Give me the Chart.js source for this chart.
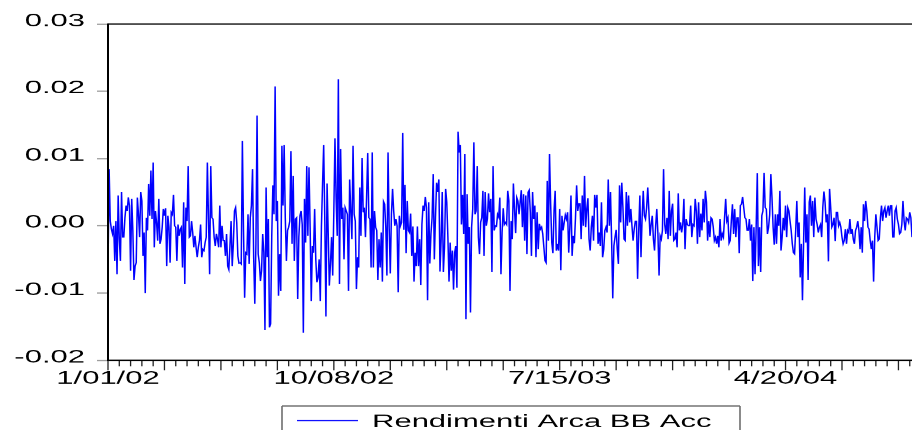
<!DOCTYPE html>
<html><head><meta charset="utf-8">
<script src="https://cdn.jsdelivr.net/npm/chart.js@4.4.1/dist/chart.umd.min.js"></script>
<style>html,body{margin:0;padding:0;background:#fff;overflow:hidden}
#c{display:block}</style>
</head><body>
<canvas id="c" width="912" height="752" style="width:912px;height:430px"></canvas>
<script>
const seriesLabel = 'Rendimenti Arca BB Acc';
const tickLabels = ['1/01/02', '10/08/02', '7/15/03', '4/20/04'];
const obsPerLabel = 200;
const yTicks = [-0.02, -0.01, 0.00, 0.01, 0.02, 0.03];

const returnsA = [
-0.0067,0.0084,0.0007,-0.0005,-0.0012,0.0000,-0.0052,0.0007,-0.0072,0.0045,-0.0020,-0.0052,
0.0050,-0.0017,-0.0017,0.0012,0.0030,0.0022,0.0042,0.0030,-0.0067,0.0040,-0.0007,
-0.0081,-0.0060,-0.0055,0.0042,0.0017,-0.0017,0.0050,0.0037,-0.0045,-0.0010,
-0.0100,0.0012,-0.0007,0.0062,0.0015,0.0082,0.0010,0.0094,-0.0032,0.0022,0.0005,
-0.0022,0.0040,-0.0027,-0.0020,-0.0002,0.0025,0.0015,0.0026,-0.0060,0.0015,
-0.0002,-0.0055,0.0020,0.0017,0.0046,0.0000,-0.0002,-0.0052,0.0002,-0.0015,-0.0005,
-0.0002,-0.0062,0.0035,-0.0087,0.0027,0.0007,0.0089,-0.0017,-0.0015,0.0007,-0.0010,
-0.0032,-0.0015,-0.0032,-0.0047,-0.0032,-0.0022,0.0002,-0.0047,-0.0035,-0.0037,-0.0025,
-0.0017,0.0094,0.0010,-0.0072,0.0089,0.0012,0.0010,-0.0017,-0.0030,-0.0012,-0.0020,
-0.0032,0.0030,-0.0032,0.0000,-0.0022,-0.0022,-0.0045,-0.0012,-0.0060,-0.0065,-0.0030,
0.0007,-0.0060,-0.0027,0.0022,0.0027,0.0005,-0.0045,-0.0056
];
const returnsB = [
-0.0055,-0.0057,0.0126,-0.0007,-0.0107,-0.0040,-0.0042,0.0017,-0.0057,0.0012,0.0030,
0.0084,-0.0047,-0.0116,-0.0027,0.0164,-0.0042,-0.0055,-0.0082,-0.0067,-0.0012,-0.0040,
-0.0155,0.0057,-0.0047,0.0010,-0.0151,-0.0146,-0.0017,0.0060,0.0017,0.0207,0.0007,
0.0037,-0.0104,-0.0042,-0.0097,0.0119,0.0030,0.0120,0.0012,-0.0052,-0.0007,
-0.0002,0.0007,0.0111,-0.0027,0.0074,-0.0052,0.0010,0.0012,-0.0109,-0.0017,0.0015,
0.0022,0.0002,-0.0159,0.0040,-0.0025,0.0089,-0.0015,0.0087,-0.0002,-0.0112,-0.0030,
-0.0040,0.0025,-0.0050,-0.0084,-0.0077,-0.0050,-0.0112,-0.0002,0.0062,0.0120,
0.0007,-0.0135,0.0063,-0.0010,-0.0089,-0.0057,-0.0017,-0.0074,0.0022,0.0130,0.0040,
-0.0015,0.0218,-0.0087,0.0114,0.0010,0.0027,-0.0050,0.0027,0.0022,0.0017,
-0.0097,0.0069,0.0022,-0.0020,0.0119,0.0017,0.0007,-0.0094,-0.0047,-0.0062,
0.0057,-0.0015,0.0101,0.0020,0.0027,-0.0017,0.0042,0.0108,0.0012,0.0010,
-0.0062,0.0109
];
const returnsC = [
-0.0062,0.0022,-0.0002,-0.0007,-0.0081,-0.0020,-0.0062,-0.0010,-0.0083,0.0036,
0.0032,-0.0002,-0.0074,0.0109,-0.0002,-0.0071,0.0017,0.0055,0.0022,0.0000,0.0010,
0.0000,-0.0099,0.0015,0.0000,0.0005,0.0138,-0.0006,0.0061,-0.0041,0.0037,
-0.0007,-0.0010,0.0018,-0.0045,-0.0001,-0.0083,-0.0040,-0.0060,-0.0001,-0.0060,-0.0020,
-0.0088,0.0002,0.0030,0.0022,0.0043,0.0027,-0.0111,0.0035,-0.0056,-0.0012,
0.0012,0.0077,-0.0050,0.0012,0.0064,0.0050,0.0069,-0.0068,-0.0022,0.0050,
-0.0069,-0.0032,0.0055,0.0035,-0.0017,-0.0083,-0.0025,-0.0067,-0.0037,-0.0095,-0.0040,
-0.0030,-0.0092,0.0140,0.0109,0.0120,0.0002,0.0046,-0.0012,0.0107,-0.0139,
0.0047,-0.0027,-0.0002,-0.0129,-0.0002,0.0025,0.0124,0.0017,0.0022,0.0089,
-0.0017,-0.0042,0.0005,0.0012,0.0052,-0.0045,0.0050,0.0000,0.0010,0.0048,0.0020,
0.0040,-0.0069,0.0089,-0.0007,0.0000,-0.0001,0.0017,0.0013,0.0042,-0.0072,-0.0010,
0.0026,0.0002,0.0005
];
const returnsD = [
0.0002,0.0052,0.0037,-0.0097,0.0007,-0.0020,0.0063,0.0025,-0.0011,0.0042,
0.0037,0.0017,0.0035,0.0053,-0.0002,0.0047,-0.0022,0.0045,-0.0042,0.0050,
0.0053,0.0020,-0.0045,0.0050,0.0010,0.0030,-0.0047,0.0020,-0.0035,0.0003,-0.0005,
-0.0002,-0.0012,-0.0032,-0.0052,-0.0055,0.0067,-0.0022,0.0107,0.0032,-0.0025,
-0.0041,0.0022,0.0052,-0.0037,-0.0027,-0.0037,0.0025,-0.0066,0.0015,-0.0007,0.0005,
0.0016,0.0010,0.0020,-0.0040,-0.0002,0.0045,-0.0045,-0.0015,-0.0026,0.0012,
0.0060,0.0022,0.0033,0.0033,-0.0020,0.0045,0.0000,0.0074,-0.0002,0.0025,
0.0041,-0.0020,-0.0037,-0.0002,0.0015,-0.0022,0.0046,0.0027,0.0046,-0.0027,-0.0010,
-0.0030,0.0035,-0.0047,-0.0035,-0.0007,-0.0002,-0.0010,0.0069,0.0000,0.0050,
-0.0022,-0.0108,-0.0030,-0.0017,-0.0006,-0.0035,-0.0057,0.0060,0.0005,0.0064,
0.0027,-0.0020,-0.0022,0.0050,0.0000,0.0045,0.0005,0.0025,0.0000,-0.0022,-0.0005,
0.0007,0.0007,-0.0079,-0.0007,0.0045
];
const returnsE = [
-0.0047,0.0012,0.0052,0.0015,0.0010,0.0027,0.0057,0.0022,-0.0015,0.0002,
0.0015,-0.0020,-0.0037,0.0000,0.0025,-0.0012,-0.0074,-0.0015,-0.0020,-0.0007,
0.0084,0.0002,-0.0012,0.0012,-0.0020,0.0052,-0.0015,0.0022,0.0033,-0.0022,
-0.0020,-0.0010,-0.0032,0.0048,-0.0007,0.0005,-0.0010,0.0002,0.0040,-0.0035,
0.0010,0.0002,0.0000,0.0000,0.0030,-0.0017,0.0002,0.0000,0.0040,0.0022,
-0.0027,0.0035,-0.0017,0.0018,-0.0007,0.0040,0.0005,0.0052,0.0035,-0.0022,
0.0007,-0.0017,0.0012,0.0010,-0.0002,-0.0022,-0.0017,-0.0027,-0.0015,-0.0032,
0.0010,-0.0022,-0.0012,-0.0017,0.0012,0.0040,0.0007,0.0012,-0.0026,-0.0022,
0.0007,0.0032,-0.0012,0.0025,-0.0017,0.0012,0.0012,-0.0041,0.0030,0.0032,
0.0043,0.0027,0.0012,0.0010,-0.0007,-0.0007,0.0010,-0.0022,0.0002,-0.0082,
-0.0002,-0.0072,-0.0002,0.0078,-0.0060,-0.0002,-0.0069,0.0015,0.0022,0.0079,
0.0027,0.0025,-0.0012,-0.0002,0.0017,0.0077,0.0042,-0.0002,-0.0028,0.0017
];
const returnsF = [
-0.0027,0.0017,0.0000,0.0052,-0.0037,-0.0017,0.0012,-0.0007,0.0030,-0.0017,
0.0027,0.0022,0.0007,-0.0007,-0.0027,-0.0040,-0.0042,-0.0007,0.0037,-0.0017,
0.0005,-0.0077,-0.0027,-0.0111,-0.0025,0.0057,-0.0025,0.0017,-0.0081,0.0035,
0.0045,0.0000,0.0037,-0.0017,0.0042,0.0010,0.0002,-0.0010,
-0.0002,0.0002,-0.0017,0.0027,0.0051,0.0035,0.0005,0.0017,
-0.0053,0.0055,0.0027,-0.0002,0.0002,0.0012,-0.0023,0.0020,0.0020,0.0000,
0.0005,-0.0002,-0.0017,-0.0027,-0.0022,-0.0005,-0.0027,-0.0007,-0.0010,
0.0010,-0.0012,-0.0005,-0.0020,-0.0027,-0.0007,-0.0002,0.0007,
-0.0007,-0.0035,-0.0002,-0.0040,0.0032,0.0007,0.0037,0.0022,-0.0002,-0.0005,
-0.0022,-0.0035,-0.0022,-0.0083,-0.0017,0.0017,-0.0002,-0.0022,-0.0020,0.0012,
0.0030,0.0007,0.0022,0.0027,0.0012,0.0022,0.0030,0.0015,0.0030,
0.0030,-0.0017,-0.0017,0.0022,0.0027,0.0010,0.0002,-0.0012,-0.0010,
0.0002,0.0037,0.0007,-0.0007,0.0012,0.0010,0.0005,0.0020,0.0012,-0.0017
];

const returns = [].concat(returnsA, returnsB, returnsC, returnsD, returnsE, returnsF);
const points = returns.map((v, i) => ({ x: i, y: v }));

// The reference picture is squeezed vertically; draw tall and let CSS squeeze.
const SY = 752 / 430;
const FONT = '"Liberation Sans", Arial, sans-serif';

const framePlugin = {
  id: 'frame',
  afterDraw(chart) {
    const { ctx, chartArea: a } = chart;
    const x = chart.scales.x;
    ctx.save();
    // x-axis tick marks (minor every 10 obs, major every 50)
    ctx.strokeStyle = '#222';
    ctx.lineWidth = 1.3;
    for (let i = 0; i <= x.max; i += 10) {
      const px = x.getPixelForValue(i);
      const len = (i % 50 === 0 ? 10 : 6) * SY;
      ctx.beginPath();
      ctx.moveTo(px, a.bottom);
      ctx.lineTo(px, a.bottom + len);
      ctx.stroke();
    }
    // frame
    ctx.strokeStyle = '#1a1a1a';
    ctx.lineWidth = 2.3;
    ctx.beginPath(); ctx.moveTo(a.left, a.top); ctx.lineTo(a.right + 4, a.top); ctx.stroke();
    ctx.strokeStyle = '#000';
    ctx.lineWidth = 2.6;
    ctx.beginPath(); ctx.moveTo(a.left, a.bottom); ctx.lineTo(a.right + 4, a.bottom); ctx.stroke();
    ctx.lineWidth = 2;
    ctx.beginPath(); ctx.moveTo(a.left, a.top - 1); ctx.lineTo(a.left, a.bottom + 1); ctx.stroke();

    // legend box
    const ds = chart.data.datasets[0];
    const bl = 282, br = 740, bt = 406 * SY;
    ctx.strokeStyle = '#6e6e6e';
    ctx.lineWidth = 2.6;
    ctx.beginPath(); ctx.moveTo(bl, bt); ctx.lineTo(br, bt); ctx.stroke();
    ctx.lineWidth = 1.6;
    ctx.beginPath(); ctx.moveTo(bl, bt); ctx.lineTo(bl, 800); ctx.moveTo(br, bt); ctx.lineTo(br, 800); ctx.stroke();
    ctx.strokeStyle = ds.borderColor;
    ctx.lineWidth = 2;
    ctx.beginPath(); ctx.moveTo(297, 420.5 * SY); ctx.lineTo(358, 420.5 * SY); ctx.stroke();
    ctx.fillStyle = '#000';
    ctx.font = '31px ' + FONT;
    ctx.textBaseline = 'alphabetic';
    ctx.textAlign = 'left';
    ctx.fillText(ds.label, 372, 427 * SY);
    ctx.restore();
  }
};

new Chart(document.getElementById('c'), {
  type: 'line',
  data: {
    datasets: [{
      label: seriesLabel,
      data: points,
      borderColor: '#0000ff',
      borderWidth: 1.5,
      pointRadius: 0,
      tension: 0,
      fill: false
    }]
  },
  options: {
    responsive: false,
    animation: false,
    events: [],
    devicePixelRatio: 1,
    layout: { padding: { top: 42, left: 0, right: 0, bottom: 0 } },
    plugins: { legend: { display: false }, tooltip: { enabled: false } },
    scales: {
      x: {
        type: 'linear',
        min: 0,
        max: returns.length - 1,
        afterFit: (s) => { s.height = 122; },
        grid: { drawOnChartArea: false, drawTicks: false },
        border: { display: false },
        ticks: {
          stepSize: obsPerLabel,
          includeBounds: false,
          autoSkip: false,
          maxRotation: 0,
          minRotation: 0,
          padding: 14,
          color: '#000',
          font: { family: FONT, size: 31 },
          callback: (v) => (v % obsPerLabel === 0 && tickLabels[v / obsPerLabel] !== undefined) ? tickLabels[v / obsPerLabel] : ''
        }
      },
      y: {
        min: yTicks[0],
        max: yTicks[yTicks.length - 1],
        afterFit: (s) => { s.width = 108; },
        grid: { drawOnChartArea: false, drawTicks: true, tickLength: 11, tickColor: '#9a9a9a', tickWidth: 2.2 },
        border: { display: false },
        ticks: {
          stepSize: 0.01,
          padding: 12,
          labelOffset: -5,
          color: '#000',
          font: { family: FONT, size: 31 },
          callback: (v) => (Math.abs(v) < 1e-9 ? 0 : v).toFixed(2)
        }
      }
    }
  },
  plugins: [framePlugin]
});
</script>
</body></html>
